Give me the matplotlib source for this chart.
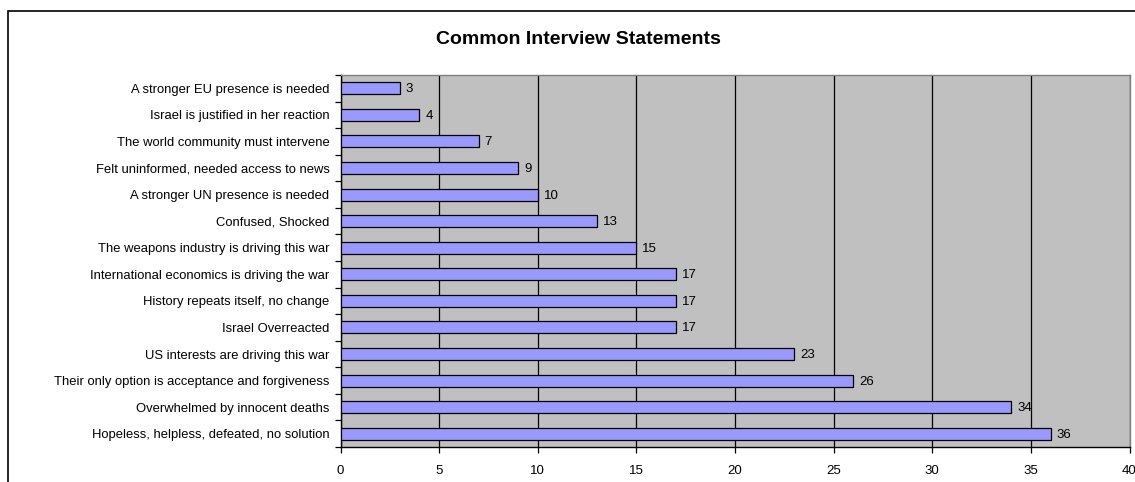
import matplotlib
matplotlib.use("Agg")
import matplotlib.pyplot as plt
from matplotlib.patches import Rectangle
import numpy as np

plt.rcParams['font.family'] = ['Liberation Sans', 'DejaVu Sans']

categories = [
    "Hopeless, helpless, defeated, no solution",
    "Overwhelmed by innocent deaths",
    "Their only option is acceptance and forgiveness",
    "US interests are driving this war",
    "Israel Overreacted",
    "History repeats itself, no change",
    "International economics is driving the war",
    "The weapons industry is driving this war",
    "Confused, Shocked",
    "A stronger UN presence is needed",
    "Felt uninformed, needed access to news",
    "The world community must intervene",
    "Israel is justified in her reaction",
    "A stronger EU presence is needed",
]
values = [36, 34, 26, 23, 17, 17, 17, 15, 13, 10, 9, 7, 4, 3]
x_ticks = [0, 5, 10, 15, 20, 25, 30, 35, 40]
title = "Common Interview Statements"

W, H = 1135, 482
fig = plt.figure(figsize=(W / 100, H / 100), dpi=100)
fig.patch.set_facecolor('white')

# outer chart border
fig.patches.append(Rectangle((8 / W, -0.1), 1.2, 1 - 11 / H + 0.1,
                             transform=fig.transFigure, fill=False,
                             edgecolor='black', linewidth=1.2))

left, right, top, bottom = 340.5, 1129.5, 75, 447
ax = fig.add_axes([left / W, 1 - bottom / H, (right - left) / W, (bottom - top) / H])
ax.set_facecolor('#C0C0C0')

y = np.arange(len(categories))
ax.barh(y, values, height=0.45, color='#9999FF', edgecolor='black', linewidth=0.9, zorder=3)
for yi, v in zip(y, values):
    ax.text(v + 0.3, yi - 0.04, str(v), va='center', ha='left', fontsize=9.5, zorder=4)

ax.set_xlim(0, 40)
ax.set_ylim(-0.5, len(categories) - 0.5)
ax.set_xticks(x_ticks)
ax.set_xticklabels([str(t) for t in x_ticks], fontsize=9.5)
ax.set_yticks(y)
ax.set_yticklabels(categories, fontsize=9.4)
ax.tick_params(axis='y', length=0, pad=8)
ax.set_yticks(np.arange(-0.5, len(categories)), minor=True)
ax.tick_params(axis='y', which='minor', length=4, width=0.9, direction='out')
ax.tick_params(axis='x', length=4, width=0.9, direction='out', pad=9)
ax.xaxis.grid(True, color='black', linewidth=0.9, zorder=1)
ax.set_axisbelow(True)
for s in ['top', 'right']:
    ax.spines[s].set_color('#808080')
    ax.spines[s].set_linewidth(1)
for s in ['left', 'bottom']:
    ax.spines[s].set_color('black')
    ax.spines[s].set_linewidth(1)

fig.text(578 / W, 1 - 39 / H, title, ha='center', va='center', fontsize=14, fontweight='bold')

fig.savefig('out.png', dpi=100)
